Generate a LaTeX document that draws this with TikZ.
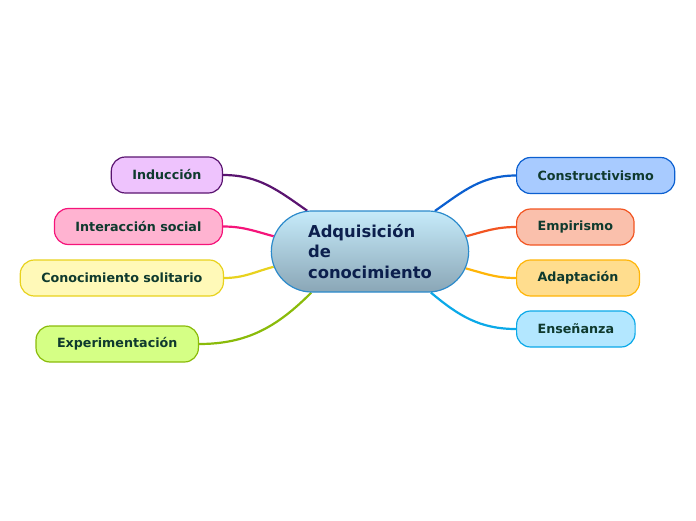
\documentclass[tikz,border=0pt]{standalone}
\usepackage{fontspec}
\setmainfont{DejaVu Sans}
\usetikzlibrary{shapes.misc,backgrounds}

\definecolor{txtleaf}{HTML}{0F3A2E}
\definecolor{txtroot}{HTML}{0C1F4D}
\definecolor{rootline}{HTML}{2B8ACB}
\definecolor{roottop}{HTML}{C6EBFA}
\definecolor{rootbot}{HTML}{8AA6B6}
\definecolor{indfill}{HTML}{EEC3FD}
\definecolor{indline}{HTML}{5A1470}
\definecolor{intfill}{HTML}{FFB3D1}
\definecolor{intline}{HTML}{F5147A}
\definecolor{solfill}{HTML}{FFF9B8}
\definecolor{solline}{HTML}{E8D21E}
\definecolor{expfill}{HTML}{D5FF85}
\definecolor{expline}{HTML}{8ABB0A}
\definecolor{confill}{HTML}{A8CBFF}
\definecolor{conline}{HTML}{0B5FD0}
\definecolor{empfill}{HTML}{FAC0AC}
\definecolor{empline}{HTML}{F25522}
\definecolor{adafill}{HTML}{FFDD8E}
\definecolor{adaline}{HTML}{FFB508}
\definecolor{ensfill}{HTML}{B3E7FF}
\definecolor{ensline}{HTML}{0BA9E8}

\begin{document}
\begin{tikzpicture}[x=1pt,y=-1pt,
   leaf/.style={draw,line width=1.2pt,rectangle,rounded corners=14pt,
     minimum height=36pt,inner xsep=21pt,text=txtleaf,
     font=\bfseries\fontsize{12.7}{15}\selectfont},
   root/.style={draw=rootline,line width=1.2pt,rounded rectangle,
     top color=roottop,bottom color=rootbot,minimum width=204pt,
     minimum height=81pt,align=left,text=txtroot,
     font=\bfseries\fontsize{16.4}{20.5}\selectfont},
   branch/.style={line width=2.2pt}]
   \useasboundingbox (0,0) rectangle (696,520);

   \node[root] (adq) at (370,251.5) {Adquisición\\de\\conocimiento};

   \node[leaf,fill=indfill,draw=indline,anchor=east] (ind) at (223,175) {Inducción};
   \node[leaf,fill=intfill,draw=intline,anchor=east] (int) at (223,226.5) {Interacción social};
   \node[leaf,fill=solfill,draw=solline,anchor=east] (sol) at (224,278) {Conocimiento solitario};
   \node[leaf,fill=expfill,draw=expline,anchor=east] (exp) at (199,344) {Experimentación};

   \node[leaf,fill=confill,draw=conline,anchor=west] (con) at (516,175.5) {Constructivismo};
   \node[leaf,fill=empfill,draw=empline,anchor=west] (emp) at (516,227) {Empirismo};
   \node[leaf,fill=adafill,draw=adaline,anchor=west] (ada) at (516,278) {Adaptación};
   \node[leaf,fill=ensfill,draw=ensline,anchor=west] (ens) at (516,329) {Enseñanza};

   \begin{scope}[on background layer]
    \draw[branch,indline] (adq.147.5) to[out=145,in=0] (ind.east);
    \draw[branch,intline] (adq.171) to[out=165,in=0] (int.east);
    \draw[branch,solline] (adq.189.5) to[out=195,in=0] (sol.east);
    \draw[branch,expline] (adq.215) to[out=225,in=0] (exp.east);
    \draw[branch,conline] (adq.32.5) to[out=35,in=180] (con.west);
    \draw[branch,empline] (adq.9) to[out=15,in=180] (emp.west);
    \draw[branch,adaline] (adq.350.5) to[out=345,in=180] (ada.west);
    \draw[branch,ensline] (adq.326) to[out=320,in=180] (ens.west);
   \end{scope}
\end{tikzpicture}
\end{document}
